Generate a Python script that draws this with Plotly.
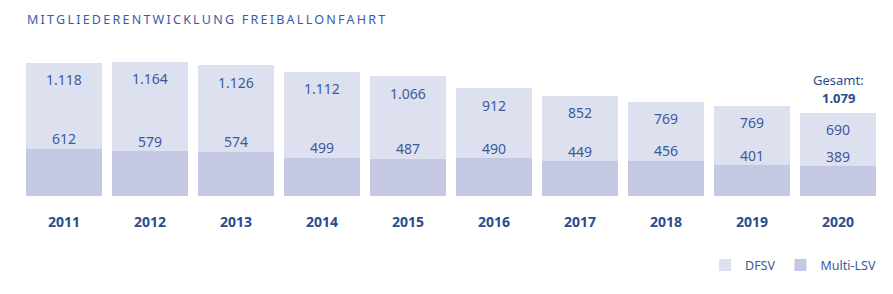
import plotly.graph_objects as go

years = ["2011", "2012", "2013", "2014", "2015", "2016", "2017", "2018", "2019", "2020"]
dfsv = [1118, 1164, 1126, 1112, 1066, 912, 852, 769, 769, 690]
multi_lsv = [612, 579, 574, 499, 487, 490, 449, 456, 401, 389]
total_caption = "Gesamt:"
total_value = "1.079"

def de(n):
    return f"{n:,}".replace(",", ".")

c_light = "#dde0ef"
c_dark = "#c5c8e2"
c_text = "#3b5a9c"
c_year = "#2c4b8c"
FONT = "Noto Sans"

totals = [a + b for a, b in zip(dfsv, multi_lsv)]

fig = go.Figure()
fig.add_bar(x=years, y=multi_lsv, name="Multi-LSV", marker=dict(color=c_dark, line=dict(width=0)),
            hoverinfo="skip")
fig.add_bar(x=years, y=dfsv, name="DFSV", marker=dict(color=c_light, line=dict(width=0)),
            hoverinfo="skip")

ann = []
for i, (yr, d, m, t) in enumerate(zip(years, dfsv, multi_lsv, totals)):
    ann.append(dict(x=i, y=t, text=de(d), showarrow=False, yshift=-17, yanchor="middle",
                    font=dict(family=FONT, size=14, color=c_text)))
    ann.append(dict(x=i, y=m, text=de(m), showarrow=False, yshift=10, yanchor="middle",
                    font=dict(family=FONT, size=14, color=c_text)))
    ann.append(dict(x=i, y=0, text=f"<b>{yr}</b>", showarrow=False, yshift=-25, yanchor="middle",
                    font=dict(family=FONT, size=14, color=c_year)))
ann.append(dict(x=len(years) - 1, y=totals[-1], text=total_caption, showarrow=False, yshift=33,
                yanchor="middle", font=dict(family=FONT, size=13, color=c_year)))
ann.append(dict(x=len(years) - 1, y=totals[-1], text=f"<b>{total_value}</b>", showarrow=False,
                yshift=15, yanchor="middle", font=dict(family=FONT, size=13, color=c_year)))
ann.append(dict(x=0.005, xref="paper", xanchor="left", y=(196 - 19) / 154.0, yref="paper",
                yanchor="middle",
                text='<span style="letter-spacing:2.25px">MITGLIEDERENTWICKLUNG FREIBALLONFAHRT</span>',
                showarrow=False, font=dict(family=FONT, size=12.5, color="#3a5aa8")))

fig.update_layout(
    width=893, height=294,
    margin=dict(l=21, r=12, t=42, b=98),
    paper_bgcolor="white", plot_bgcolor="white",
    barmode="stack", bargap=0.116,
    showlegend=True,
    legend=dict(orientation="h", x=1.0, xanchor="right", y=-0.45, yanchor="middle",
                traceorder="reversed", font=dict(family=FONT, size=12.5, color=c_text),
                itemwidth=30, tracegroupgap=0, bgcolor="rgba(0,0,0,0)"),
    xaxis=dict(visible=False, type="category", range=[-0.5, len(years) - 0.5]),
    yaxis=dict(visible=False, range=[0, 2000]),
    annotations=ann,
)
fig.write_html("out.html")
